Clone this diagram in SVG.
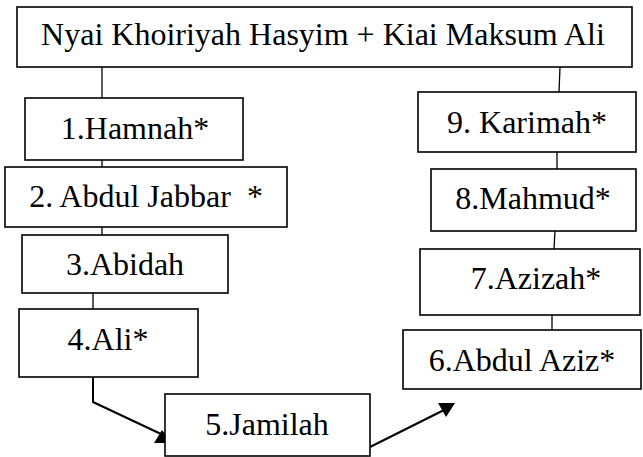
<svg xmlns="http://www.w3.org/2000/svg" width="643" height="457" viewBox="0 0 643 457">
<style>
.box{fill:#fff;stroke:#000;stroke-width:1.6}
.t{font-family:"Liberation Serif","Times New Roman",serif;font-size:32px;fill:#000;text-anchor:middle;white-space:pre}
.ln{fill:none;stroke:#000;stroke-width:1.3}
.ar{fill:none;stroke:#000;stroke-width:2}
</style>
<rect width="643" height="457" fill="#fff"/>
<g id="connectors">
<line class="ln" x1="102" y1="67" x2="102" y2="98"/>
<line class="ln" x1="560" y1="67" x2="559" y2="92"/>
<line class="ln" x1="102" y1="160" x2="102" y2="167"/>
<line class="ln" x1="102" y1="227" x2="102" y2="235"/>
<line class="ln" x1="93" y1="293" x2="93" y2="309"/>
<line class="ln" x1="557" y1="152" x2="557" y2="169"/>
<line class="ln" x1="555" y1="231" x2="554" y2="249"/>
<line class="ln" x1="552" y1="315" x2="552" y2="330"/>
<polyline class="ar" points="93,377 93,402 161,434"/>
<polygon points="162,430 154,443 172,443" fill="#000"/>
<line class="ar" x1="370" y1="447" x2="444" y2="410"/>
<polygon points="438,403 455,403 446,417" fill="#000"/>
</g>
<g id="n0"><rect class="box" x="17" y="7" width="615" height="60"/><text class="t" x="323" y="45">Nyai Khoiriyah Hasyim + Kiai Maksum Ali</text></g>
<g id="n1"><rect class="box" x="25" y="98" width="218" height="62"/><text class="t" x="135" y="139">1.Hamnah*</text></g>
<g id="n2"><rect class="box" x="5" y="167" width="282" height="60"/><text class="t" x="146" y="207">2. Abdul Jabbar  *</text></g>
<g id="n3"><rect class="box" x="22" y="235" width="206" height="58"/><text class="t" x="125" y="275">3.Abidah</text></g>
<g id="n4"><rect class="box" x="19" y="309" width="179" height="68"/><text class="t" x="108" y="350">4.Ali*</text></g>
<g id="n5"><rect class="box" x="165" y="394" width="205" height="62"/><text class="t" x="267" y="435">5.Jamilah</text></g>
<g id="n6"><rect class="box" x="403" y="330" width="238" height="59"/><text class="t" x="522" y="371">6.Abdul Aziz*</text></g>
<g id="n7"><rect class="box" x="420" y="249" width="220" height="66"/><text class="t" x="536" y="289">7.Azizah*</text></g>
<g id="n8"><rect class="box" x="431" y="169" width="205" height="62"/><text class="t" x="533" y="209">8.Mahmud*</text></g>
<g id="n9"><rect class="box" x="418" y="92" width="218" height="60"/><text class="t" x="527" y="133">9. Karimah*</text></g>
</svg>
